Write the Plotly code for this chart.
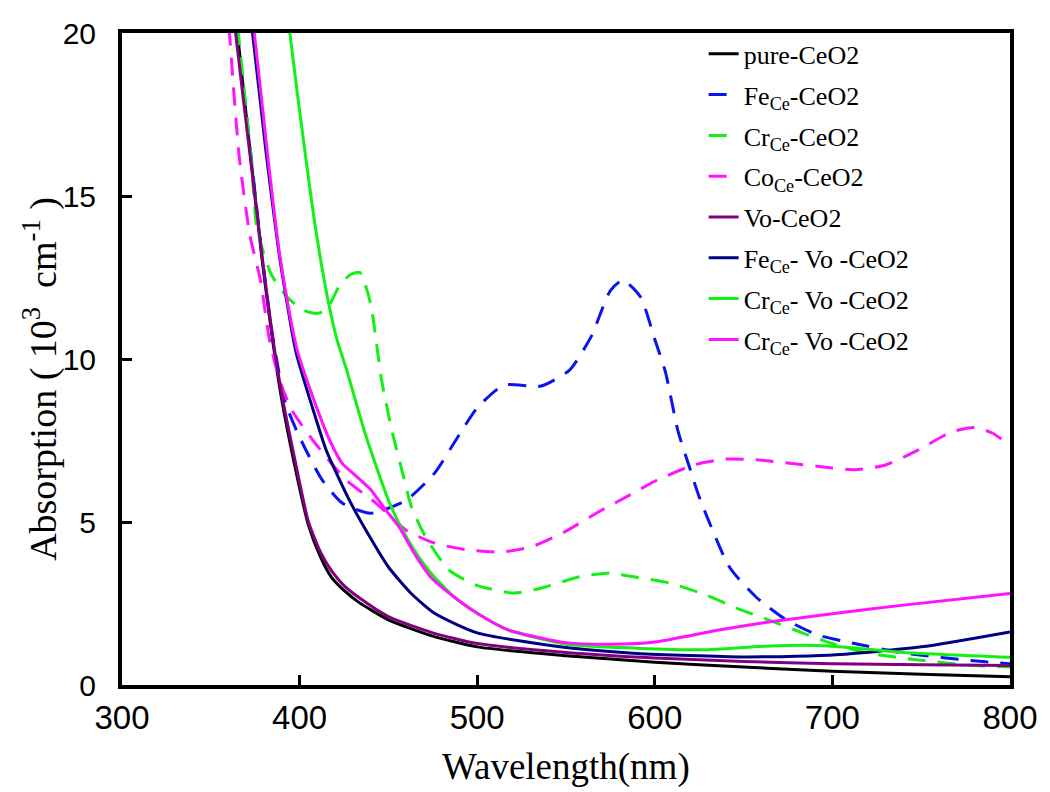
import plotly.graph_objects as go

# Optical absorption spectra of pure and doped CeO2 (wavelength in nm, absorption in 10^3 cm^-1)

pure_wl = [362, 365, 372.5, 379, 384.5, 390, 397, 405, 412, 418, 425, 433, 450, 475, 500, 550, 600, 650, 700, 750, 800]
pure_ab = [22, 20, 16.2, 13.0, 10.7, 8.74, 6.8, 4.9, 3.9, 3.3, 2.9, 2.55, 2.0, 1.5, 1.17, 0.9, 0.7, 0.55, 0.42, 0.33, 0.25]

fe_wl = [362, 365, 372.5, 379, 384.5, 389, 392, 400, 412.6, 424, 440, 460, 476, 489, 500, 515, 536, 552, 564, 575, 582,
         592, 600, 606, 613, 620, 625, 642, 657, 674, 692, 711, 740, 786, 800]
fe_ab = [22, 20, 16.3, 13.1, 10.8, 9.4, 8.65, 7.6, 6.3, 5.58, 5.27, 5.67, 6.5, 7.6, 8.5, 9.2, 9.17, 9.66, 10.67, 12.1, 12.42,
         11.9, 10.6, 9.6, 7.8, 6.6, 5.77, 3.62, 2.7, 2.0, 1.53, 1.29, 0.98, 0.71, 0.65]

cr_wl = [362, 365.5, 372.5, 376, 384, 393, 402, 410, 415, 423, 429, 434, 440, 443, 446, 452, 458, 463, 471, 484, 499,
         521, 538, 556, 573, 590, 608, 629, 646, 664, 683, 702, 720, 748, 775, 800]
cr_ab = [22, 20, 16.3, 14.0, 12.6, 11.9, 11.5, 11.4, 11.5, 12.3, 12.6, 12.65, 11.7, 10.6, 9.4, 7.8, 6.5, 5.46, 4.54, 3.53, 3.07,
         2.82, 3.0, 3.3, 3.43, 3.3, 3.13, 2.76, 2.36, 2.0, 1.6, 1.23, 0.98, 0.77, 0.62, 0.55]

co_wl = [358, 360.5, 366, 372, 378, 383, 389, 396, 409, 426, 443, 460, 476, 495, 513, 530, 549, 568, 586, 600, 622,
         640, 659, 676, 695, 712, 730, 748, 767, 780, 790, 800]
co_ab = [22, 20, 16.2, 13.8, 12.4, 10.6, 9.3, 8.4, 7.4, 6.3, 5.58, 4.75, 4.35, 4.14, 4.08, 4.23, 4.69, 5.3, 5.83, 6.25, 6.75,
         6.93, 6.9, 6.8, 6.69, 6.6, 6.75, 7.2, 7.76, 7.9, 7.73, 7.35]

vo_wl = [361, 364, 372, 379, 384.5, 390, 397, 405, 412, 418, 425, 433, 450, 475, 500, 550, 600, 650, 700, 750, 800]
vo_ab = [22, 20, 16.3, 13.1, 10.8, 8.9, 7.0, 5.0, 4.05, 3.5, 3.05, 2.7, 2.1, 1.6, 1.27, 1.0, 0.83, 0.72, 0.65, 0.62, 0.6]

fevo_wl = [371, 373.5, 381, 388, 393, 398, 409, 415, 428, 440, 450, 463, 476, 500, 550, 590, 650, 700, 750, 800]
fevo_ab = [21, 20, 16.4, 13.4, 11.7, 10.2, 8.2, 7.2, 5.67, 4.5, 3.62, 2.8, 2.2, 1.6, 1.15, 0.97, 0.86, 0.92, 1.17, 1.63]

crvo_wl = [393, 394.5, 403.4, 409, 416, 421, 426, 437, 450, 457, 465, 474, 487, 500, 517, 550, 590, 627, 665, 698, 740, 800]
crvo_ab = [21, 20, 16.2, 14.0, 11.8, 10.6, 9.75, 7.7, 5.67, 4.85, 4.1, 3.43, 2.7, 2.2, 1.7, 1.25, 1.13, 1.08, 1.2, 1.2, 1.0, 0.85]

covo_wl = [372, 374.5, 381.7, 388, 393, 398.5, 409, 417, 424, 432, 440, 448, 456, 465, 474, 487, 500, 517, 550, 575, 600,
           636, 665, 702, 740, 800]
covo_ab = [21, 20, 16.4, 13.5, 11.8, 10.3, 8.6, 7.5, 6.8, 6.4, 6.0, 5.4, 4.85, 4.0, 3.3, 2.7, 2.2, 1.7, 1.3, 1.25, 1.32,
           1.69, 1.94, 2.2, 2.45, 2.81]

names = [
    "pure-CeO2",
    "Fe<sub>Ce</sub>-CeO2",
    "Cr<sub>Ce</sub>-CeO2",
    "Co<sub>Ce</sub>-CeO2",
    "Vo-CeO2",
    "Fe<sub>Ce</sub>- Vo -CeO2",
    "Cr<sub>Ce</sub>- Vo -CeO2",
    "Cr<sub>Ce</sub>- Vo -CeO2",
]
series_x = [pure_wl, fe_wl, cr_wl, co_wl, vo_wl, fevo_wl, crvo_wl, covo_wl]
series_y = [pure_ab, fe_ab, cr_ab, co_ab, vo_ab, fevo_ab, crvo_ab, covo_ab]
colors = ["#000000", "#0a14f0", "#14f014", "#ff14ff", "#800080", "#000080", "#14f014", "#ff14ff"]
dashes = ["solid", "18px,12px", "18px,12px", "18px,12px", "solid", "solid", "solid", "solid"]

fig = go.Figure()
for i in range(len(names)):
    fig.add_trace(go.Scatter(
        x=series_x[i], y=series_y[i], name=names[i], mode="lines",
        line=dict(color=colors[i], width=3, dash=dashes[i], shape="spline", smoothing=0.6),
        legendgroup=f"g{i}",
    ))

serif = "Liberation Serif, Times New Roman, serif"

fig.update_layout(
    width=1050, height=792,
    margin=dict(l=122, r=35, t=33, b=107),
    paper_bgcolor="white", plot_bgcolor="white",
    showlegend=True,
    legend=dict(
        x=0.655, y=1.004, xanchor="left", yanchor="top",
        bgcolor="rgba(0,0,0,0)", borderwidth=0,
        font=dict(family=serif, size=26, color="black"),
        tracegroupgap=4,
    ),
    xaxis=dict(
        range=[300, 800], tickvals=[300, 400, 500, 600, 700, 800],
        ticks="inside", ticklen=10, tickwidth=3, tickcolor="black",
        showline=True, linewidth=4, linecolor="black", mirror=True,
        showgrid=False, zeroline=False,
        tickfont=dict(family="Liberation Sans Narrow, Arial Narrow, Liberation Sans, sans-serif", size=33, color="black"),
        ticklabelstandoff=0,
    ),
    yaxis=dict(
        range=[0, 20], tickvals=[0, 5, 10, 15, 20],
        ticks="inside", ticklen=10, tickwidth=3, tickcolor="black",
        showline=True, linewidth=4, linecolor="black", mirror=True,
        showgrid=False, zeroline=False,
        tickfont=dict(family="Liberation Sans, Arial, sans-serif", size=30, color="black"),
        ticklabelstandoff=16,
    ),
    annotations=[
        dict(text="Wavelength(nm)", x=0.5, y=-0.125, xref="paper", yref="paper",
             xanchor="center", yanchor="middle", showarrow=False,
             font=dict(family=serif, size=37, color="black")),
        dict(text="Absorption ( 10<sup>3</sup>  cm<sup>-1</sup> )", x=-0.092, y=0.47,
             xref="paper", yref="paper", xanchor="center", yanchor="middle",
             textangle=-90, showarrow=False,
             font=dict(family=serif, size=38, color="black")),
    ],
)

fig.write_html("out.html")
